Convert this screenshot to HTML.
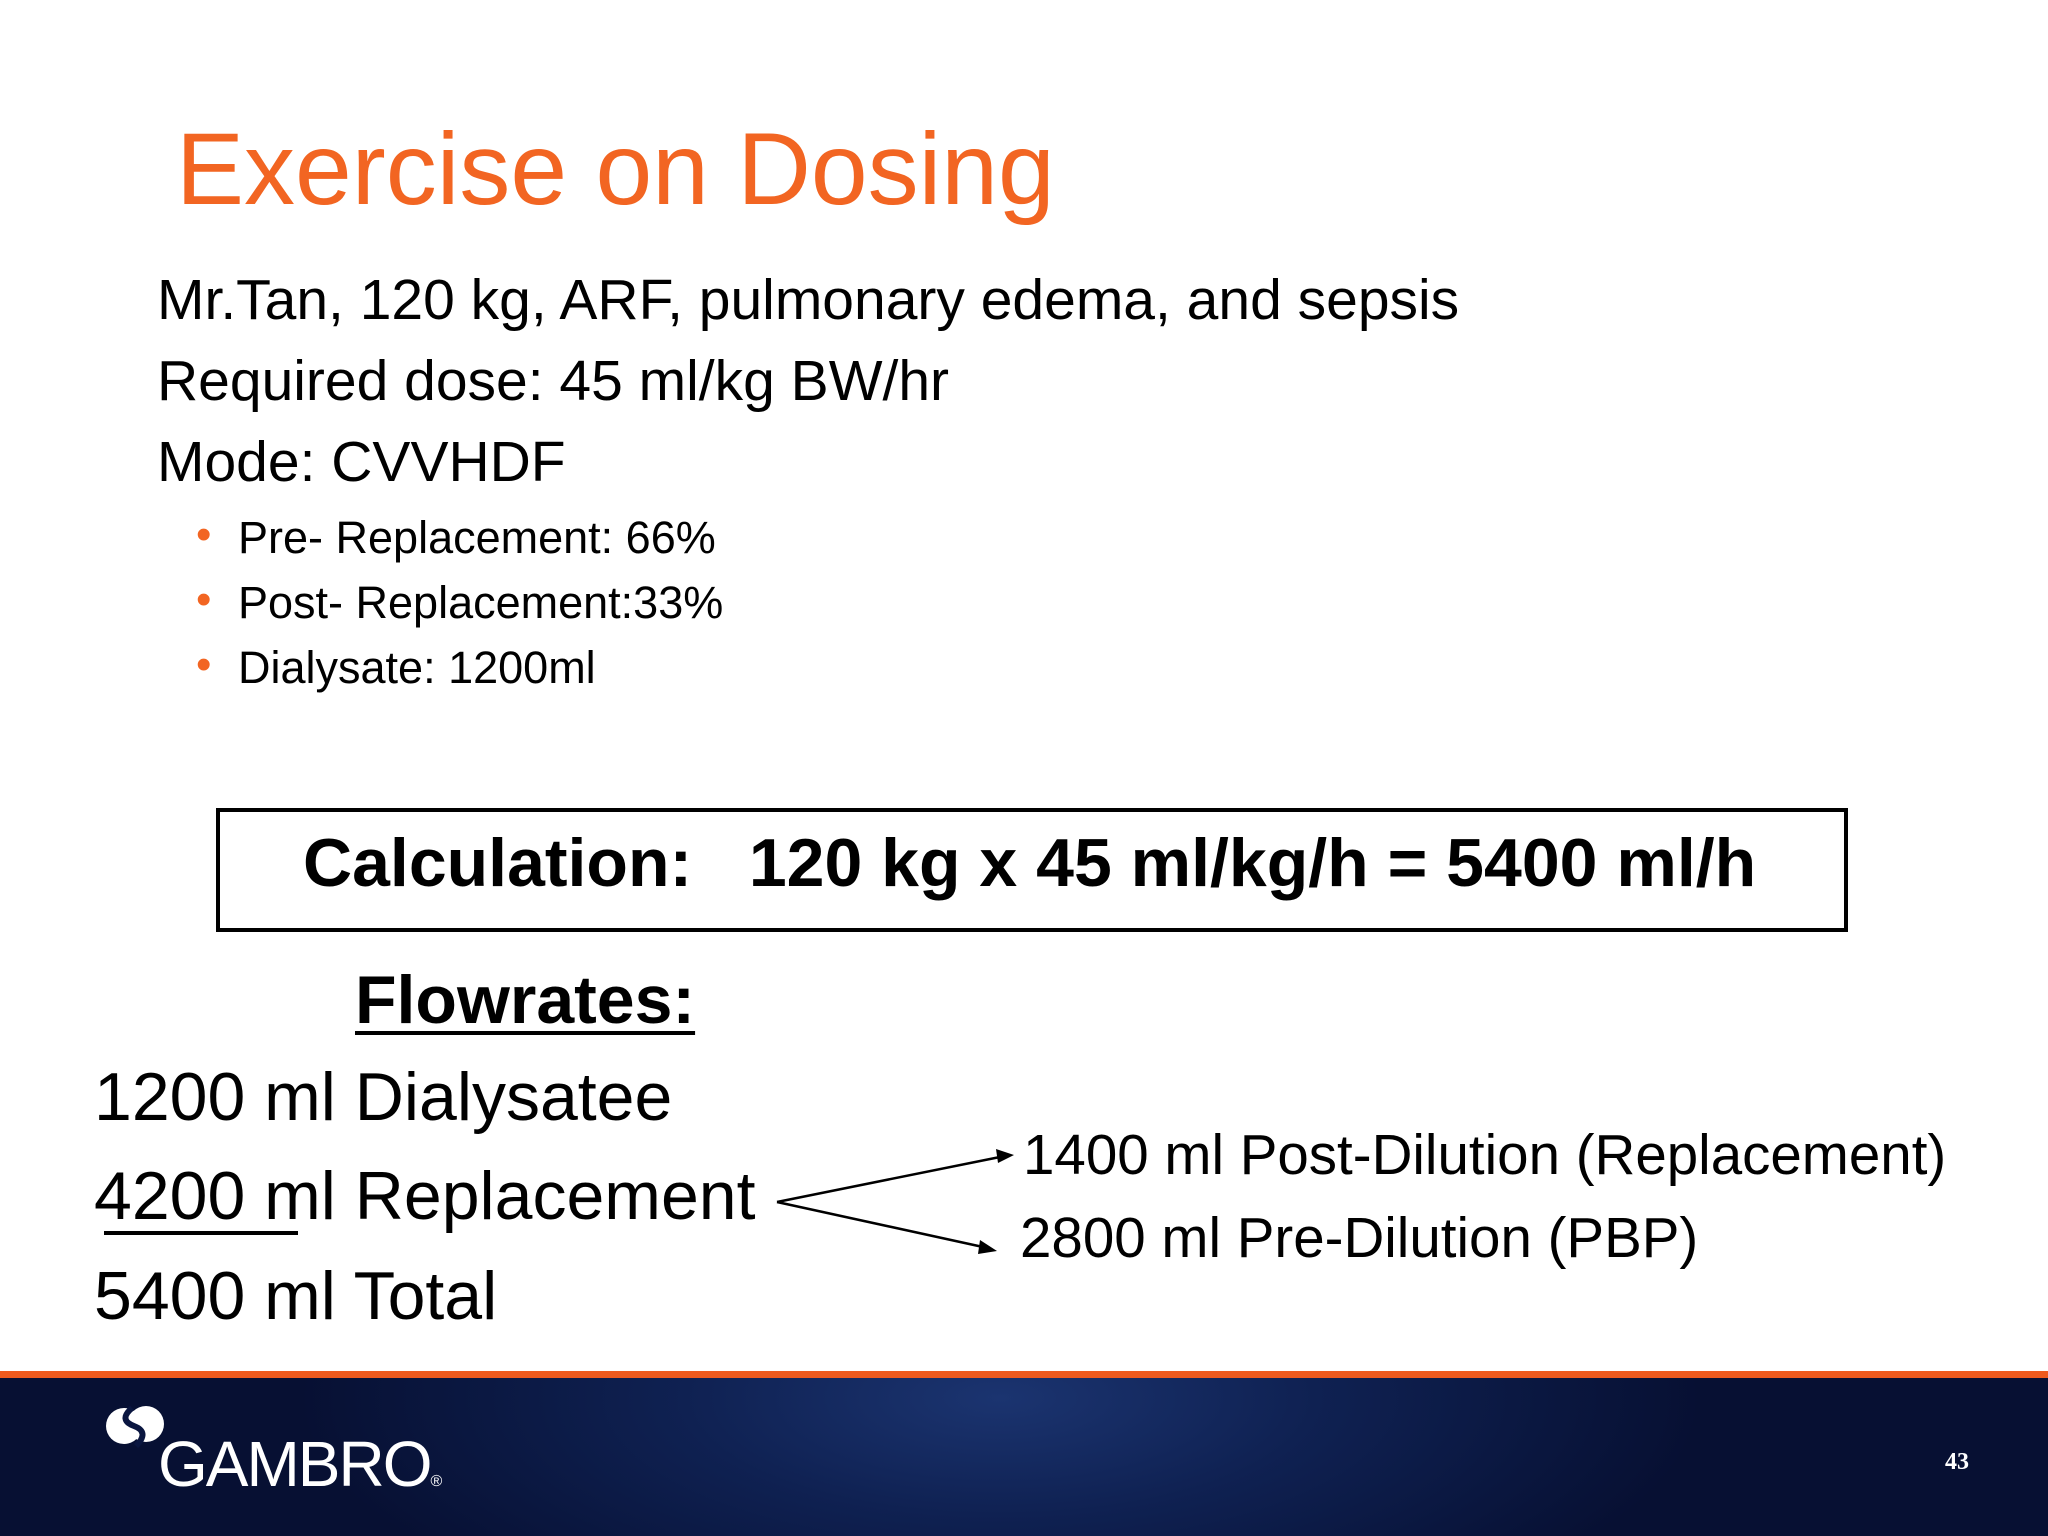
<!DOCTYPE html>
<html><head><meta charset="utf-8"><style>
html,body{margin:0;padding:0}
body{width:2048px;height:1536px;position:relative;background:#fff;overflow:hidden;font-family:"Liberation Sans",Arial,sans-serif;color:#000}
.t{position:absolute;white-space:nowrap;line-height:1}
</style></head><body>
<div class="t" style="left:176px;top:118px;font-size:102px;color:#f26522">Exercise on Dosing</div>
<div class="t" style="left:157px;top:272px;font-size:57px">Mr.Tan, 120 kg, ARF, pulmonary edema, and sepsis</div>
<div class="t" style="left:157px;top:353px;font-size:57px">Required dose: 45 ml/kg BW/hr</div>
<div class="t" style="left:157px;top:434px;font-size:57px">Mode: CVVHDF</div>
<div class="t" style="left:196px;top:515px;font-size:45px"><span style="color:#f26522;font-size:44px;position:relative;top:-4px">•</span><span style="position:absolute;left:42px">Pre- Replacement: 66%</span></div>
<div class="t" style="left:196px;top:580px;font-size:45px"><span style="color:#f26522;font-size:44px;position:relative;top:-4px">•</span><span style="position:absolute;left:42px">Post- Replacement:33%</span></div>
<div class="t" style="left:196px;top:645px;font-size:45px"><span style="color:#f26522;font-size:44px;position:relative;top:-4px">•</span><span style="position:absolute;left:42px">Dialysate: 1200ml</span></div>
<div style="position:absolute;left:216px;top:808px;width:1624px;height:116px;border:4px solid #000"></div>
<div class="t" style="left:303px;top:829px;font-size:68px;font-weight:bold">Calculation:&nbsp;&nbsp; 120 kg x 45 ml/kg/h = 5400 ml/h</div>
<div class="t" style="left:355px;top:966px;font-size:68px;font-weight:bold;text-decoration:underline;text-decoration-thickness:4px;text-underline-offset:8px">Flowrates:</div>
<div class="t" style="left:94px;top:1063px;font-size:68px">1200 ml Dialysatee</div>
<div class="t" style="left:94px;top:1162px;font-size:68px">4200 ml Replacement</div>
<div style="position:absolute;left:104px;top:1231px;width:194px;height:4px;background:#000"></div>
<div class="t" style="left:94px;top:1262px;font-size:68px">5400 ml Total</div>
<svg style="position:absolute;left:0;top:0" width="2048" height="1536">
<line x1="777" y1="1202" x2="1000" y2="1157" stroke="#000" stroke-width="2.5"/>
<polygon points="1014,1155 996,1149 998,1163" fill="#000"/>
<line x1="777" y1="1202" x2="983" y2="1247" stroke="#000" stroke-width="2.5"/>
<polygon points="997,1251 980,1240 978,1254" fill="#000"/>
</svg>
<div class="t" style="left:1023px;top:1127px;font-size:56.5px">1400 ml Post-Dilution (Replacement)</div>
<div class="t" style="left:1020px;top:1210px;font-size:56.5px">2800 ml Pre-Dilution (PBP)</div>
<div style="position:absolute;left:0;top:1371px;width:2048px;height:7px;background:#ee5a1e"></div>
<div style="position:absolute;left:0;top:1378px;width:2048px;height:158px;background:radial-gradient(ellipse 700px 260px at 1000px 20px,#1b3470 0%,#0f2152 45%,#071033 100%)"></div>
<svg style="position:absolute;left:104px;top:1402px" width="66" height="48" viewBox="0 0 66 48">
<circle cx="20" cy="24" r="18" fill="#fff"/><circle cx="42" cy="22" r="18" fill="#fff"/>
<path d="M28 6 Q14 18 30 24 Q46 30 32 44" stroke="#0a1640" stroke-width="6" fill="none"/>
</svg>
<div class="t" style="left:158px;top:1432px;font-size:64px;color:#fff;letter-spacing:-2px">GAMBRO<span style="font-size:16px;letter-spacing:0">®</span></div>
<div class="t" style="left:1945px;top:1450px;font-size:24px;color:#fff;font-family:'Liberation Serif',serif;font-weight:bold">43</div>
</body></html>
